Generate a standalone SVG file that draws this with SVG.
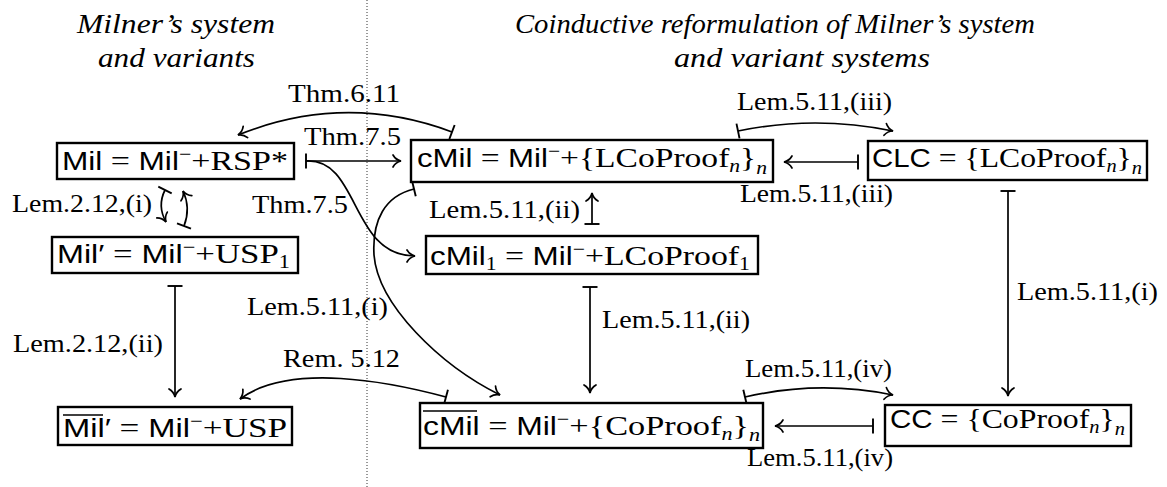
<svg xmlns="http://www.w3.org/2000/svg" width="1167" height="487" viewBox="0 0 1167 487">
<style>
.box{fill:#fff;stroke:#000;stroke-width:2.4}
.lbl{font-family:"Liberation Serif",serif;font-size:26px;fill:#000}
.ttl{font-family:"Liberation Serif",serif;font-style:italic;font-size:27px;fill:#000}
.nt{font-family:"Liberation Serif",serif;font-size:28px;fill:#000}
.sf{font-family:"Liberation Sans",sans-serif;font-size:26px}
.sub{font-size:18px;font-style:italic}
.subr{font-size:18px}
.sup{font-size:18px}
.conn path{fill:none;stroke:#000;stroke-width:1.7}
.ovl{stroke:#000;stroke-width:1.6}
</style>
<defs>
<marker id="ah" markerUnits="userSpaceOnUse" viewBox="-10 -8 12 16" refX="0" refY="0" markerWidth="12" markerHeight="16" orient="auto" overflow="visible">
<path d="M-8,-6 C-6,-2.5 -2.5,-0.6 0,0 C-2.5,0.6 -6,2.5 -8,6" fill="none" stroke="#000" stroke-width="1.7" stroke-linecap="round"/>
</marker>
<marker id="bar" markerUnits="userSpaceOnUse" viewBox="-4 -9 8 18" refX="0" refY="0" markerWidth="8" markerHeight="18" orient="auto" overflow="visible">
<path d="M0,-7.5 V7.5" fill="none" stroke="#000" stroke-width="1.9"/>
</marker>
</defs>

<line x1="367" y1="0" x2="367" y2="487" stroke="#333" stroke-width="1" stroke-dasharray="1 2"/>

<g id="titles">
<text class="ttl" x="77" y="33" textLength="198" lengthAdjust="spacingAndGlyphs">Milner’s system</text>
<text class="ttl" x="98" y="67" textLength="157" lengthAdjust="spacingAndGlyphs">and variants</text>
<text class="ttl" x="515" y="33" textLength="520" lengthAdjust="spacingAndGlyphs">Coinductive reformulation of Milner’s system</text>
<text class="ttl" x="674" y="67" textLength="256" lengthAdjust="spacingAndGlyphs">and variant systems</text>
</g>

<g id="connectors" class="conn">
<path d="M452,132 Q345,92 238,135" marker-start="url(#bar)" marker-end="url(#ah)"/>
<path d="M306,161 H401" marker-start="url(#bar)" marker-end="url(#ah)"/>
<path d="M306,161 C360,158 350,256 415,256" marker-end="url(#ah)"/>
<path d="M414,189 C385,196 372,220 374,255 C378,305 440,365 500,395" marker-start="url(#bar)" marker-end="url(#ah)"/>
<path d="M165,190 Q157,206 166,222" marker-start="url(#bar)" marker-end="url(#ah)"/>
<path d="M184,226 Q191,208 183,191" marker-start="url(#bar)" marker-end="url(#ah)"/>
<path d="M175,286 V397" marker-start="url(#bar)" marker-end="url(#ah)"/>
<path d="M446,397 C390,382 290,362 240,399" marker-start="url(#bar)" marker-end="url(#ah)"/>
<path d="M592,224 V193" marker-start="url(#bar)" marker-end="url(#ah)"/>
<path d="M590,287 V393" marker-start="url(#bar)" marker-end="url(#ah)"/>
<path d="M738,131 Q815,115 893,131" marker-start="url(#bar)" marker-end="url(#ah)"/>
<path d="M858,162 H784" marker-start="url(#bar)" marker-end="url(#ah)"/>
<path d="M1008,191 V396" marker-start="url(#bar)" marker-end="url(#ah)"/>
<path d="M745,397 Q819,380 893,395" marker-start="url(#bar)" marker-end="url(#ah)"/>
<path d="M873,426 H775" marker-start="url(#bar)" marker-end="url(#ah)"/>
</g>

<g id="labels">
<text class="lbl" x="288" y="102" textLength="112" lengthAdjust="spacingAndGlyphs">Thm.6.11</text>
<text class="lbl" x="304" y="145" textLength="97" lengthAdjust="spacingAndGlyphs">Thm.7.5</text>
<text class="lbl" x="252" y="213" textLength="96" lengthAdjust="spacingAndGlyphs">Thm.7.5</text>
<text class="lbl" x="12" y="212" textLength="140" lengthAdjust="spacingAndGlyphs">Lem.2.12,(i)</text>
<text class="lbl" x="13" y="352" textLength="150" lengthAdjust="spacingAndGlyphs">Lem.2.12,(ii)</text>
<text class="lbl" x="247" y="315" textLength="141" lengthAdjust="spacingAndGlyphs">Lem.5.11,(i)</text>
<text class="lbl" x="283" y="367" textLength="117" lengthAdjust="spacingAndGlyphs">Rem. 5.12</text>
<text class="lbl" x="429" y="218" textLength="151" lengthAdjust="spacingAndGlyphs">Lem.5.11,(ii)</text>
<text class="lbl" x="602" y="328" textLength="148" lengthAdjust="spacingAndGlyphs">Lem.5.11,(ii)</text>
<text class="lbl" x="737" y="110" textLength="155" lengthAdjust="spacingAndGlyphs">Lem.5.11,(iii)</text>
<text class="lbl" x="740" y="202" textLength="153" lengthAdjust="spacingAndGlyphs">Lem.5.11,(iii)</text>
<text class="lbl" x="1017" y="300" textLength="141" lengthAdjust="spacingAndGlyphs">Lem.5.11,(i)</text>
<text class="lbl" x="745" y="377" textLength="147" lengthAdjust="spacingAndGlyphs">Lem.5.11,(iv)</text>
<text class="lbl" x="747" y="466" textLength="146" lengthAdjust="spacingAndGlyphs">Lem.5.11,(iv)</text>
</g>

<g id="node-mil">
<rect class="box" x="57" y="143" width="237" height="36"/>
<text class="nt" x="62" y="170" textLength="226" lengthAdjust="spacingAndGlyphs"><tspan class="sf">Mil</tspan> = <tspan class="sf">Mil</tspan><tspan class="sup" dy="-10">−</tspan><tspan dy="10">+RSP*</tspan></text>
</g>

<g id="node-cmil">
<rect class="box" x="411" y="140" width="362" height="42"/>
<text class="nt" x="417" y="167" textLength="350" lengthAdjust="spacingAndGlyphs"><tspan class="sf">cMil</tspan> = <tspan class="sf">Mil</tspan><tspan class="sup" dy="-10">−</tspan><tspan dy="10">+{LCoProof</tspan><tspan class="sub" dy="5">n</tspan><tspan dy="-5">}</tspan><tspan class="sub" dy="7">n</tspan></text>
</g>

<g id="node-clc">
<rect class="box" x="868" y="141" width="279" height="39"/>
<text class="nt" x="872" y="167" textLength="270" lengthAdjust="spacingAndGlyphs"><tspan class="sf">CLC</tspan> = {LCoProof<tspan class="sub" dy="5">n</tspan><tspan dy="-5">}</tspan><tspan class="sub" dy="7">n</tspan></text>
</g>

<g id="node-milprime">
<rect class="box" x="52" y="237" width="246" height="36"/>
<text class="nt" x="57" y="263" textLength="233" lengthAdjust="spacingAndGlyphs"><tspan class="sf">Mil′</tspan> = <tspan class="sf">Mil</tspan><tspan class="sup" dy="-10">−</tspan><tspan dy="10">+USP</tspan><tspan class="subr" dy="5">1</tspan></text>
</g>

<g id="node-cmil1">
<rect class="box" x="426" y="236" width="332" height="38"/>
<text class="nt" x="430" y="265" textLength="320" lengthAdjust="spacingAndGlyphs"><tspan class="sf">cMil</tspan><tspan class="subr" dy="5">1</tspan><tspan dy="-5"> = </tspan><tspan class="sf">Mil</tspan><tspan class="sup" dy="-10">−</tspan><tspan dy="10">+LCoProof</tspan><tspan class="subr" dy="5">1</tspan></text>
</g>

<g id="node-milprimebar">
<rect class="box" x="58" y="407" width="234" height="38"/>
<line class="ovl" x1="63" y1="415" x2="103" y2="415"/>
<text class="nt" x="63" y="437" textLength="224" lengthAdjust="spacingAndGlyphs"><tspan class="sf">Mil′</tspan> = <tspan class="sf">Mil</tspan><tspan class="sup" dy="-10">−</tspan><tspan dy="10">+USP</tspan></text>
</g>

<g id="node-cmilbar">
<rect class="box" x="420" y="403" width="343" height="45"/>
<line class="ovl" x1="423" y1="411" x2="477" y2="411"/>
<text class="nt" x="423" y="435" textLength="337" lengthAdjust="spacingAndGlyphs"><tspan class="sf">cMil</tspan> = <tspan class="sf">Mil</tspan><tspan class="sup" dy="-10">−</tspan><tspan dy="10">+{CoProof</tspan><tspan class="sub" dy="5">n</tspan><tspan dy="-5">}</tspan><tspan class="sub" dy="6">n</tspan></text>
</g>

<g id="node-cc">
<rect class="box" x="885" y="405" width="246" height="41"/>
<text class="nt" x="890" y="428" textLength="235" lengthAdjust="spacingAndGlyphs"><tspan class="sf">CC</tspan> = {CoProof<tspan class="sub" dy="5">n</tspan><tspan dy="-5">}</tspan><tspan class="sub" dy="7">n</tspan></text>
</g>
</svg>
